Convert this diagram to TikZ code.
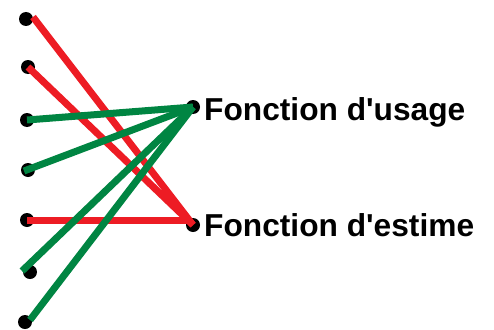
\documentclass[tikz,border=0pt]{standalone}
\usepackage{fontspec}
\setmainfont{Liberation Sans}
\definecolor{lred}{HTML}{ED1C24}
\definecolor{lgreen}{HTML}{008542}
\tikzset{
  dot/.style={circle, fill=black, inner sep=0pt, minimum size=14pt},
  redline/.style={draw=lred, line width=7pt},
  greenline/.style={draw=lgreen, line width=7pt},
  fonction/.style={anchor=base west, inner sep=0pt, font=\fontsize{31.7}{36}\selectfont\bfseries}
}
\begin{document}
\begin{tikzpicture}[x=1pt, y=-1pt]
                \useasboundingbox (0,0) rectangle (494,329);
                \node[dot] (l1) at (26,19) {};
                \node[dot] (l2) at (28,67) {};
                \node[dot] (l3) at (27,120) {};
                \node[dot] (l4) at (28,170) {};
                \node[dot] (l5) at (27,220) {};
                \node[dot] (l6) at (30,272) {};
                \node[dot] (l7) at (25,322) {};
                \node[dot] (usage) at (193,107) {};
                \node[dot] (estime) at (193,225) {};
                \node[fonction] (usagetxt) at (204,120) {Fonction d\textquotesingle usage};
                \node[fonction] (estimetxt) at (204,236.5) {Fonction d\textquotesingle estime};
                % red: estime
                \draw[redline] ([shift={(7,-2)}]l1.center) -- (estime.center);
                \draw[redline] (l2.center) -- (estime.center);
                \draw[redline] (l5.center) -- ([shift={(-2,-5)}]estime.center);
                % green: usage
                \draw[greenline] (l3.center) -- (usage.center);
                \draw[greenline] ([shift={(-4,1)}]l4.center) -- (usage.center);
                \draw[greenline] ([shift={(-8,-1)}]l6.center) -- (usage.center);
                \draw[greenline] ([shift={(5,-2)}]l7.center) -- (usage.center);
            \end{tikzpicture}
\end{document}
